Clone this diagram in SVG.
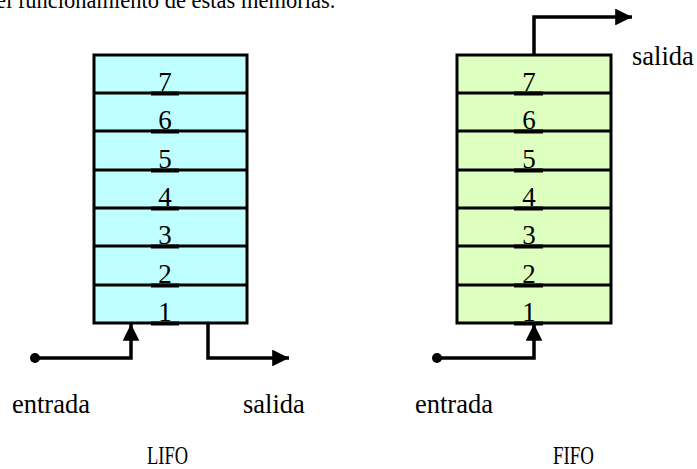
<svg xmlns="http://www.w3.org/2000/svg" width="697" height="469" viewBox="0 0 697 469">
  <style>
    text { font-family: "Liberation Serif", "Times New Roman", serif; fill: #000; }
    .num { font-size: 27px; text-anchor: middle; }
    .lbl { font-size: 26.5px; }
    .cap { font-size: 25px; }
    .frame { stroke: #000; stroke-width: 3; }
    .row { stroke: #000; stroke-width: 3; }
    .tick { stroke: #000; stroke-width: 4; }
    .wire { fill: none; stroke: #000; stroke-width: 3.5; }
  </style>
  <defs>
    <marker id="head" viewBox="0 0 10 10" refX="10" refY="5" markerWidth="5.2" markerHeight="4.8" markerUnits="strokeWidth" orient="auto">
      <path d="M0,0 L10,5 L0,10 z" fill="#000"/>
    </marker>
  </defs>

  <rect width="697" height="469" fill="#fff"/>

  <!-- running text, clipped by the page top -->
  <text x="-4" y="8" font-size="22.5">el funcionamiento de estas memorias.</text>

  <!-- LIFO stack -->
  <g id="lifo">
    <rect x="94" y="55" width="153" height="268" fill="#C0FFFF" class="frame"/>
    <g class="row">
      <line x1="94" y1="93" x2="247" y2="93"/>
      <line x1="94" y1="131" x2="247" y2="131"/>
      <line x1="94" y1="170" x2="247" y2="170"/>
      <line x1="94" y1="208" x2="247" y2="208"/>
      <line x1="94" y1="246" x2="247" y2="246"/>
      <line x1="94" y1="285" x2="247" y2="285"/>
    </g>
    <g class="tick">
      <line x1="151" y1="93.5" x2="179" y2="93.5"/>
      <line x1="151" y1="131.5" x2="179" y2="131.5"/>
      <line x1="151" y1="170.5" x2="179" y2="170.5"/>
      <line x1="151" y1="208.5" x2="179" y2="208.5"/>
      <line x1="151" y1="246.5" x2="179" y2="246.5"/>
      <line x1="151" y1="285.5" x2="179" y2="285.5"/>
      <line x1="151" y1="323.5" x2="179" y2="323.5"/>
    </g>
    <text class="num" x="165" y="91">7</text>
    <text class="num" x="165" y="129">6</text>
    <text class="num" x="165" y="168">5</text>
    <text class="num" x="165" y="206">4</text>
    <text class="num" x="165" y="244">3</text>
    <text class="num" x="165" y="283">2</text>
    <text class="num" x="165" y="321">1</text>
  </g>

  <!-- FIFO stack -->
  <g id="fifo">
    <rect x="457" y="55" width="154" height="268" fill="#DDFFC0" class="frame"/>
    <g class="row">
      <line x1="457" y1="93" x2="611" y2="93"/>
      <line x1="457" y1="131" x2="611" y2="131"/>
      <line x1="457" y1="170" x2="611" y2="170"/>
      <line x1="457" y1="208" x2="611" y2="208"/>
      <line x1="457" y1="246" x2="611" y2="246"/>
      <line x1="457" y1="285" x2="611" y2="285"/>
    </g>
    <g class="tick">
      <line x1="514" y1="93.5" x2="543" y2="93.5"/>
      <line x1="514" y1="131.5" x2="543" y2="131.5"/>
      <line x1="514" y1="170.5" x2="543" y2="170.5"/>
      <line x1="514" y1="208.5" x2="543" y2="208.5"/>
      <line x1="514" y1="246.5" x2="543" y2="246.5"/>
      <line x1="514" y1="285.5" x2="543" y2="285.5"/>
      <line x1="514" y1="323.5" x2="543" y2="323.5"/>
    </g>
    <text class="num" x="529" y="91">7</text>
    <text class="num" x="529" y="129">6</text>
    <text class="num" x="529" y="168">5</text>
    <text class="num" x="529" y="206">4</text>
    <text class="num" x="529" y="244">3</text>
    <text class="num" x="529" y="283">2</text>
    <text class="num" x="529" y="321">1</text>
  </g>

  <!-- connectors -->
  <g id="connectors">
    <circle cx="35" cy="358" r="5" fill="#000"/>
    <path class="wire" d="M35,358 H131 V324" marker-end="url(#head)"/>
    <path class="wire" d="M208,323 V358 H289" marker-end="url(#head)"/>
    <circle cx="437" cy="358" r="5" fill="#000"/>
    <path class="wire" d="M437,358 H534 V324" marker-end="url(#head)"/>
    <path class="wire" d="M534,55 V17 H632" marker-end="url(#head)"/>
  </g>

  <!-- labels -->
  <g id="labels">
    <text class="lbl" x="12" y="413">entrada</text>
    <text class="lbl" x="243" y="413">salida</text>
    <text class="lbl" x="415" y="413">entrada</text>
    <text class="lbl" x="632" y="65">salida</text>
    <text class="cap" x="147" y="464" textLength="41" lengthAdjust="spacingAndGlyphs">LIFO</text>
    <text class="cap" x="553" y="464" textLength="41" lengthAdjust="spacingAndGlyphs">FIFO</text>
  </g>
</svg>
